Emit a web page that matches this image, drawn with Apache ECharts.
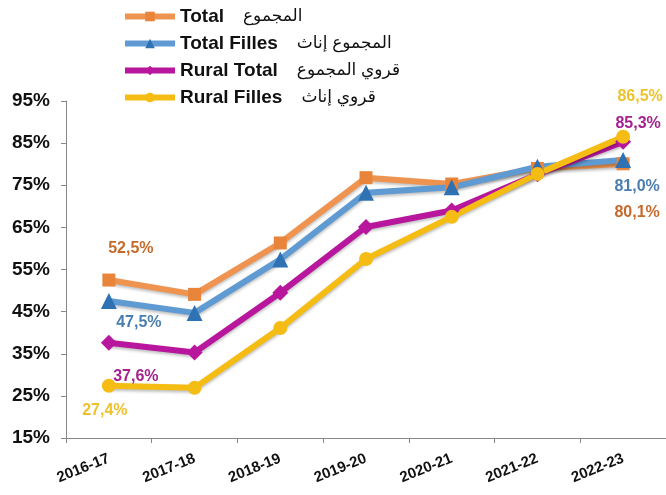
<!DOCTYPE html>
<html>
<head>
<meta charset="utf-8">
<script src="https://cdn.jsdelivr.net/npm/echarts@6/dist/echarts.min.js"></script>
<style>
  html, body { margin: 0; padding: 0; background: #fff; }
  #chart-box { width: 666px; height: 495px; }
</style>
</head>
<body>
<div id="chart-box"></div>
<script>
// data
var years = ['2016-17', '2017-18', '2018-19', '2019-20', '2020-21', '2021-22', '2022-23'];
var totalVals = [52.5, 49.1, 61.3, 76.8, 75.3, 79.0, 80.1];
var totalFillesVals = [47.5, 44.7, 57.4, 73.2, 74.5, 79.4, 81.0];
var ruralTotalVals = [37.6, 35.3, 49.5, 65.1, 69.0, 77.6, 85.3];
var ruralFillesVals = [27.4, 26.9, 41.1, 57.5, 67.5, 77.7, 86.5];
var legendNames = ['Total', 'Total Filles', 'Rural Total', 'Rural Filles'];
var legendArabic = ['المجموع', 'المجموع إناث', 'قروي المجموع', 'قروي إناث'];

var font = 'Arial, "Liberation Sans", "DejaVu Sans", sans-serif';

function pct(v) {
  return v.toFixed(1).replace('.', ',') + '%';
}

// only first and last points carry a label
function withLabels(vals, color, first, last) {
  return vals.map(function (v, i) {
    var item = { value: v };
    var cfg = i === 0 ? first : (i === vals.length - 1 ? last : null);
    if (cfg) {
      item.label = {
        show: true,
        position: 'inside',
        offset: cfg,
        color: color,
        fontFamily: font,
        fontWeight: 'bold',
        fontSize: 16,
        formatter: function (p) { return pct(p.value); }
      };
    }
    return item;
  });
}

function lineSeries(name, vals, lineColor, markColor, symbol, size, labelColor, first, last) {
  return {
    name: name,
    type: 'line',
    data: withLabels(vals, labelColor, first, last),
    symbol: symbol,
    symbolSize: size,
    lineStyle: {
      color: lineColor,
      width: 6,
      shadowColor: 'rgba(0,0,0,0.25)',
      shadowBlur: 3,
      shadowOffsetY: 2
    },
    itemStyle: { color: markColor },
    emphasis: { disabled: true },
    animation: false
  };
}

var chartObj = echarts.init(document.getElementById('chart-box'));
var option = {
  backgroundColor: '#fff',
  grid: { left: 66, right: 0, top: 101, bottom: 57 },
  legend: {
    orient: 'vertical',
    left: 122,
    top: 7,
    padding: 0,
    itemWidth: 50,
    itemHeight: 12,
    itemGap: 8,
    data: legendNames,
    lineStyle: { width: 6, shadowBlur: 0 },
    formatter: function (name) {
      var i = legendNames.indexOf(name);
      return '{b|' + name + '}{a|' + legendArabic[i] + '}';
    },
    textStyle: {
      rich: {
        b: { fontFamily: font, fontWeight: 'bold', fontSize: 19, color: '#111', padding: [0, 19, 0, 0] },
        a: { fontFamily: font, fontSize: 17, color: '#111' }
      }
    }
  },
  xAxis: {
    type: 'category',
    data: years,
    boundaryGap: true,
    axisLine: { lineStyle: { color: '#888' } },
    axisTick: { show: true, length: 5, lineStyle: { color: '#888' } },
    axisLabel: {
      rotate: 22,
      margin: 20,
      color: '#111',
      fontFamily: font,
      fontWeight: 'bold',
      fontSize: 15
    },
    splitLine: { show: false }
  },
  yAxis: {
    type: 'value',
    min: 15,
    max: 95,
    interval: 10,
    axisLine: { show: true, lineStyle: { color: '#888' } },
    axisTick: { show: true, length: 5, lineStyle: { color: '#888' } },
    axisLabel: {
      margin: 16,
      color: '#111',
      fontFamily: font,
      fontWeight: 'bold',
      fontSize: 19,
      formatter: function (v) { return v + '%'; }
    },
    splitLine: { show: false }
  },
  series: [
    lineSeries('Total', totalVals, '#EE9450', '#E8853A', 'rect', 13, '#C66A2C', [22, -31], [14, 49]),
    lineSeries('Total Filles', totalFillesVals, '#5F9BD2', '#2F72B4', 'triangle', 16, '#4A7DB0', [30, 21], [14, 27]),
    lineSeries('Rural Total', ruralTotalVals, '#B8169C', '#B8169C', 'diamond', 16, '#A3228F', [27, 34], [15, -18]),
    lineSeries('Rural Filles', ruralFillesVals, '#F5BD14', '#F5BD14', 'circle', 14, '#EDC22E', [-4, 25], [17, -40])
  ]
};
chartObj.setOption(option);
</script>
</body>
</html>
